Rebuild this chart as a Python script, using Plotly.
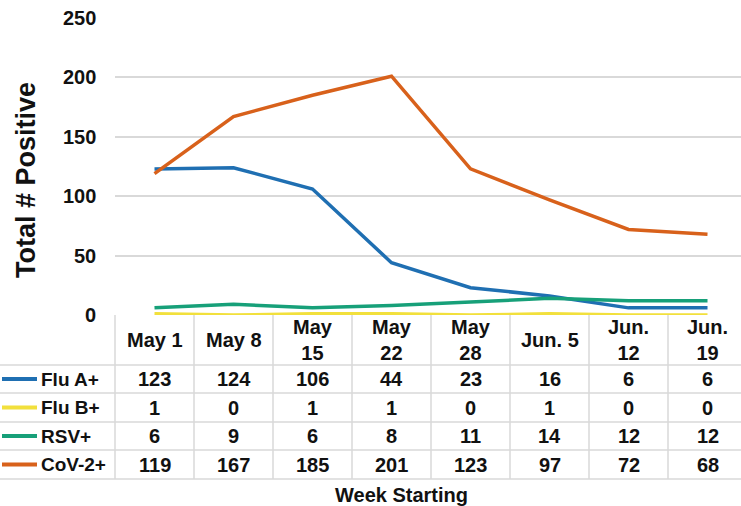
import plotly.graph_objects as go

weeks = ["May 1", "May 8", "May<br>15", "May<br>22", "May<br>28", "Jun. 5", "Jun.<br>12", "Jun.<br>19"]
series_names = ["Flu A+", "Flu B+", "RSV+", "CoV-2+"]
flu_a = [123, 124, 106, 44, 23, 16, 6, 6]
flu_b = [1, 0, 1, 1, 0, 1, 0, 0]
rsv = [6, 9, 6, 8, 11, 14, 12, 12]
cov2 = [119, 167, 185, 201, 123, 97, 72, 68]
y_ticks = [0, 50, 100, 150, 200, 250]

colors = ["#1f6fb2", "#f2e03c", "#17a079", "#d8611b"]
values = [flu_a, flu_b, rsv, cov2]

W, H = 741, 506
FONT = "Liberation Sans, Arial, sans-serif"
GRID = "#d9d9d9"
TXT = "#111111"


def py(p):
    return 1 - p / H


def px(p):
    return p / W


xi = list(range(len(weeks)))
fig = go.Figure()
for k in [1, 0, 2, 3]:
    fig.add_trace(go.Scatter(x=xi, y=values[k], mode="lines", name=series_names[k],
                             line=dict(color=colors[k], width=3.5), showlegend=False,
                             hoverinfo="skip"))

shapes = []
annotations = []

table_top = 315
row_bounds = [365, 393, 422, 450, 479]
left_edge = 115

for yb in row_bounds:
    shapes.append(dict(type="line", xref="paper", yref="paper", x0=0, x1=1,
                       y0=py(yb), y1=py(yb), line=dict(color=GRID, width=1.5)))
shapes.append(dict(type="line", xref="paper", yref="paper", x0=px(left_edge), x1=px(left_edge),
                   y0=py(table_top), y1=py(row_bounds[-1]), line=dict(color=GRID, width=1.5)))
for i in range(1, len(weeks) + 1):
    shapes.append(dict(type="line", xref="x", yref="paper", x0=i - 0.5, x1=i - 0.5,
                       y0=py(table_top), y1=py(row_bounds[-1]), line=dict(color=GRID, width=1.5)))

for i, w in enumerate(weeks):
    annotations.append(dict(x=i, xref="x", y=py((table_top + row_bounds[0]) / 2), yref="paper",
                            text=w, showarrow=False, xanchor="center", yanchor="middle",
                            font=dict(family=FONT, size=20, color=TXT, weight="bold")))

for r, (name, vals) in enumerate(zip(series_names, values)):
    yc = (row_bounds[r] + row_bounds[r + 1]) / 2
    shapes.append(dict(type="line", xref="paper", yref="paper", x0=px(2), x1=px(37),
                       y0=py(yc), y1=py(yc), line=dict(color=colors[r], width=4)))
    annotations.append(dict(x=px(39), xref="paper", y=py(yc), yref="paper", text=name,
                            showarrow=False, xanchor="left", yanchor="middle",
                            font=dict(family=FONT, size=19, color=TXT, weight="bold")))
    for i, v in enumerate(vals):
        annotations.append(dict(x=i, xref="x", y=py(yc), yref="paper", text=str(v),
                                showarrow=False, xanchor="center", yanchor="middle",
                                font=dict(family=FONT, size=20, color=TXT, weight="bold")))

annotations.append(dict(x=px(401), xref="paper", y=py(495), yref="paper", text="Week Starting",
                        showarrow=False, xanchor="center", yanchor="middle",
                        font=dict(family=FONT, size=20, color=TXT, weight="bold")))
annotations.append(dict(x=px(26), xref="paper", y=py(180), yref="paper", text="Total # Positive",
                        showarrow=False, xanchor="center", yanchor="middle", textangle=-90,
                        font=dict(family=FONT, size=27, color=TXT, weight="bold")))

for t in y_ticks:
    annotations.append(dict(x=px(98), xref="paper", y=t, yref="y", text=str(t),
                            showarrow=False, xanchor="right", yanchor="middle",
                            font=dict(family=FONT, size=20, color=TXT, weight="bold")))

fig.update_layout(
    width=W, height=H,
    margin=dict(l=0, r=0, t=0, b=0),
    paper_bgcolor="white", plot_bgcolor="white",
    xaxis=dict(domain=[px(left_edge), 1], range=[-0.5, 7.424], showticklabels=False,
               showgrid=False, zeroline=False, showline=False, fixedrange=True),
    yaxis=dict(domain=[py(table_top), py(18)], range=[0, 250], tickvals=y_ticks,
               showticklabels=False, showgrid=True, gridcolor=GRID, gridwidth=1.5,
               zeroline=False, showline=False, fixedrange=True),
    shapes=shapes,
    annotations=annotations,
    font=dict(family=FONT, color=TXT),
)

fig.write_html("out.html", config={"displayModeBar": False},
               post_script="document.body.style.margin='0';document.body.style.overflow='hidden';")
